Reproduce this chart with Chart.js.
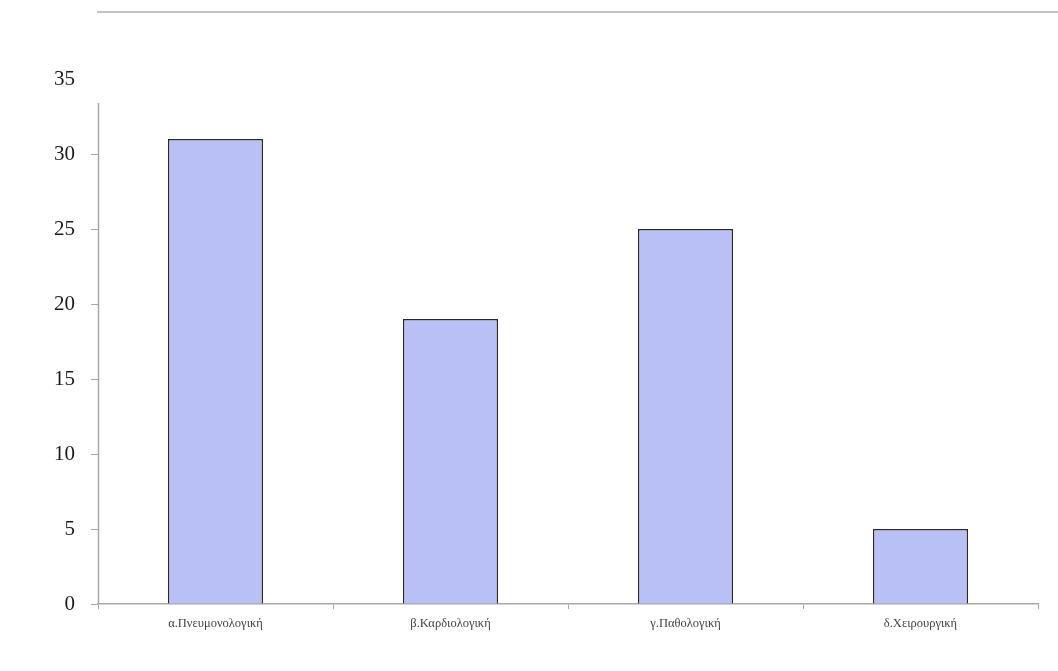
<!DOCTYPE html>
<html>
<head>
<meta charset="utf-8">
<script src="https://cdn.jsdelivr.net/npm/chart.js@4/dist/chart.umd.min.js"></script>
<style>
  html, body { margin: 0; padding: 0; background: #fff; }
  #wrap { position: relative; width: 1058px; height: 671px; }
  #rule { position: absolute; left: 97px; right: 0; top: 11px; border-top: 2px solid #c4c4c4; }
</style>
</head>
<body>
<div id="wrap">
  <div id="rule"></div>
  <canvas id="c" width="1058" height="671"></canvas>
</div>
<script>
const categories = ['α.Πνευμονολογική', 'β.Καρδιολογική', 'γ.Παθολογική', 'δ.Χειρουργική'];
const values = [31, 19, 25, 5];
const yTicks = [0, 5, 10, 15, 20, 25, 30, 35];
const axisTop = 33.4; // the drawn y axis line stops a little short of the 35 label

const barFill = '#b8c0f6';
const barEdge = '#2a2a2a';
const axisGrey = '#a8a8a8';

// y axis line drawn by hand so it can end below the top label
const shortAxis = {
    id: 'shortAxis',
    afterDraw(chart) {
        const y = chart.scales.y, ctx = chart.ctx;
        const x = Math.round(chart.chartArea.left) + 0.5;
        ctx.save();
        ctx.strokeStyle = axisGrey;
        ctx.lineWidth = 1.5;
        ctx.beginPath();
        ctx.moveTo(x, y.getPixelForValue(axisTop));
        ctx.lineTo(x, y.getPixelForValue(0));
        ctx.stroke();
        ctx.restore();
    }
};

new Chart(document.getElementById('c'), {
    type: 'bar',
    data: {
        labels: categories,
        datasets: [{
            data: values,
            backgroundColor: barFill,
            borderColor: barEdge,
            borderWidth: 1.5,
            borderSkipped: 'bottom',
            categoryPercentage: 1,
            barPercentage: 0.405
        }]
    },
    options: {
        responsive: false,
        animation: false,
        layout: { padding: { top: 79, right: 20, left: 0, bottom: 0 } },
        plugins: { legend: { display: false }, tooltip: { enabled: false } },
        scales: {
            x: {
                grid: { display: true, drawOnChartArea: false, tickLength: 5, color: axisGrey },
                border: { color: axisGrey, width: 1.5 },
                ticks: {
                    padding: 7,
                    color: '#444',
                    font: { family: 'Liberation Serif', size: 12.5 }
                },
                afterFit: s => { s.height = 67; }
            },
            y: {
                min: 0,
                max: 35,
                afterBuildTicks: s => { s.ticks = yTicks.map(v => ({ value: v })); },
                grid: {
                    display: true,
                    drawOnChartArea: false,
                    tickLength: 7,
                    color: c => (c.tick && c.tick.value === 35 ? 'rgba(0,0,0,0)' : axisGrey)
                },
                border: { display: false },
                ticks: {
                    padding: 16,
                    color: '#1a1a1a',
                    font: { family: 'Liberation Serif', size: 21 }
                },
                afterFit: s => { s.width = 98; }
            }
        }
    },
    plugins: [shortAxis]
});
</script>
</body>
</html>
